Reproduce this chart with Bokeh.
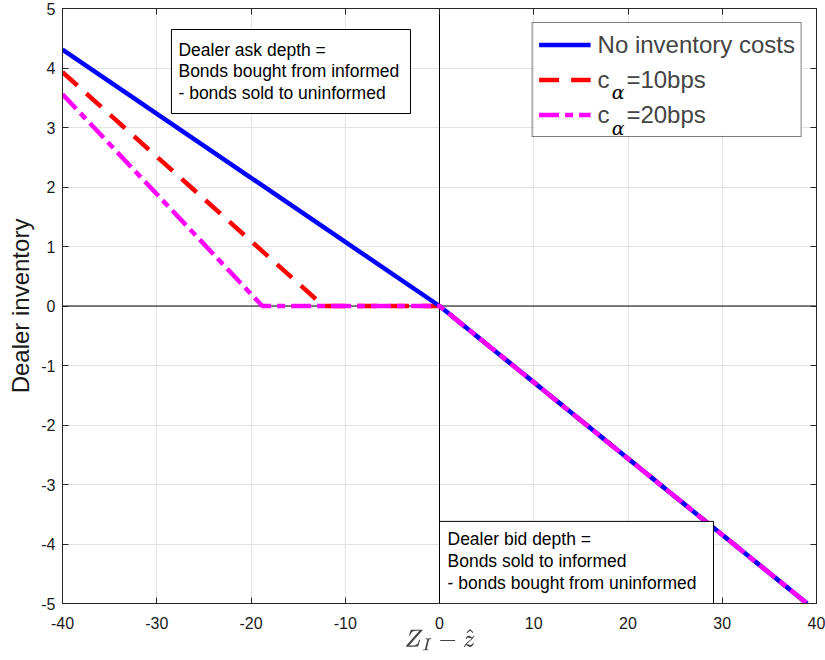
from bokeh.plotting import figure
from bokeh.models import (Range1d, LinearAxis, FixedTicker, Span, Legend, LegendItem,
                          Label, BoxAnnotation)
from bokeh.embed import file_html
from bokeh.resources import INLINE

# ---- data ----
x_blue = [-40, 0, 39]
y_blue = [4.31, 0, -5]
x_red = [-40, -12.3, 0, 39]
y_red = [3.93, 0, 0, -5]
x_mag = [-40, -18.8, 0, 39]
y_mag = [3.56, 0, 0, -5]

x_ticks = [-40, -30, -20, -10, 0, 10, 20, 30, 40]
y_ticks = [-5, -4, -3, -2, -1, 0, 1, 2, 3, 4, 5]

series_labels = ["No inventory costs", "c\u2002\u2009=10bps", "c\u2002\u2009=20bps"]
ask_text = "Dealer ask depth =\nBonds bought from informed\n- bonds sold to uninformed"
bid_text = "Dealer bid depth =\nBonds sold to informed\n- bonds bought from uninformed"

FONT = "Liberation Sans"
AX = "#262626"

p = figure(width=825, height=660, output_backend="svg", toolbar_location=None,
           x_range=Range1d(-40, 40), y_range=Range1d(-5, 5),
           min_border_left=62, min_border_right=9, min_border_top=8, min_border_bottom=57)
p.background_fill_color = "white"
p.border_fill_color = "white"
p.outline_line_color = AX

for ax in (p.xaxis[0], p.yaxis[0]):
    ax.axis_line_color = AX
    ax.major_tick_line_color = AX
    ax.major_tick_in = 6
    ax.major_tick_out = 0
    ax.minor_tick_line_color = None
    ax.major_label_text_font = FONT
    ax.major_label_text_font_size = "16px"
    ax.major_label_text_color = "#1a1a1a"

p.xaxis.ticker = FixedTicker(ticks=x_ticks)
p.yaxis.ticker = FixedTicker(ticks=y_ticks)
p.xaxis.major_label_overrides = {t: str(t) for t in x_ticks}
p.yaxis.major_label_overrides = {t: str(t) for t in y_ticks}
p.xaxis.major_label_standoff = 13
p.yaxis.major_label_standoff = 7

p.xaxis.axis_label = r"$$Z_I - \widehat{z}$$"
p.xaxis.axis_label_text_font_size = "20px"
p.xaxis.axis_label_standoff = -5
p.yaxis.axis_label = "Dealer inventory"
p.yaxis.axis_label_text_font = FONT
p.yaxis.axis_label_text_font_style = "normal"
p.yaxis.axis_label_text_font_size = "24px"
p.yaxis.axis_label_text_color = "#1a1a1a"
p.yaxis.axis_label_standoff = 4

for side, ticks in (("above", x_ticks), ("right", y_ticks)):
    a = LinearAxis(ticker=FixedTicker(ticks=ticks))
    a.axis_line_color = AX
    a.major_tick_line_color = AX
    a.major_tick_in = 6
    a.major_tick_out = 0
    a.minor_tick_line_color = None
    a.major_label_overrides = {t: "" for t in ticks}
    a.major_label_standoff = 0
    p.add_layout(a, side)

p.xgrid.ticker = FixedTicker(ticks=x_ticks)
p.ygrid.ticker = FixedTicker(ticks=y_ticks)
p.grid.grid_line_color = "#e3e3e3"
p.grid.grid_line_width = 1

p.add_layout(Span(location=0, dimension="height", line_color="black", line_width=1, level="underlay"))
p.add_layout(Span(location=0, dimension="width", line_color="black", line_width=1, level="underlay"))

red = p.line(x_red, y_red, line_color="#ff0000", line_width=4.5, line_dash="20 12")
blue = p.line(x_blue, y_blue, line_color="#0000ff", line_width=4.5)
mag = p.line(x_mag, y_mag, line_color="#ff00ff", line_width=4.5, line_dash="20 6 8 6")

# white backing for the legend (legend itself is transparent so the subscripts show)
p.add_layout(BoxAnnotation(left=10.1, right=38.5, top=4.76, bottom=2.87,
                           fill_color="white", fill_alpha=1, line_color=None))
for yy in (3.59, 3.0):
    p.add_layout(Label(x=18.95, y=yy, text="α", text_font="DejaVu Serif",
                       text_font_style="italic", text_font_size="19px",
                       text_align="center", text_baseline="middle", text_color="black"))

legend = Legend(items=[LegendItem(label=series_labels[0], renderers=[blue]),
                       LegendItem(label=series_labels[1], renderers=[red]),
                       LegendItem(label=series_labels[2], renderers=[mag])],
                location="top_right", margin=14, padding=6, spacing=4,
                glyph_width=52, glyph_height=31, label_height=31, label_standoff=7,
                label_text_font=FONT, label_text_font_size="24px",
                border_line_color="black", border_line_width=1,
                background_fill_alpha=0)
p.add_layout(legend)

p.add_layout(BoxAnnotation(left=-28.44, right=-3.08, top=4.647, bottom=3.235,
                           fill_color="white", fill_alpha=1, line_color="black",
                           line_width=1, line_alpha=1))
p.add_layout(Label(x=-28.44, y=4.647, x_offset=7, y_offset=-10, text=ask_text,
                   text_font=FONT, text_font_size="17.5px", text_line_height=1.08,
                   text_align="left", text_baseline="top", text_color="black"))

p.add_layout(BoxAnnotation(left=0, right=29.07, top=-3.62, bottom=-5,
                           fill_color="white", fill_alpha=1, line_color="black",
                           line_width=1, line_alpha=1))
p.add_layout(Label(x=0, y=-3.62, x_offset=8, y_offset=-8, text=bid_text,
                   text_font=FONT, text_font_size="17.5px", text_line_height=1.08,
                   text_align="left", text_baseline="top", text_color="black"))

open("out.html", "w").write(file_html(p, INLINE))
